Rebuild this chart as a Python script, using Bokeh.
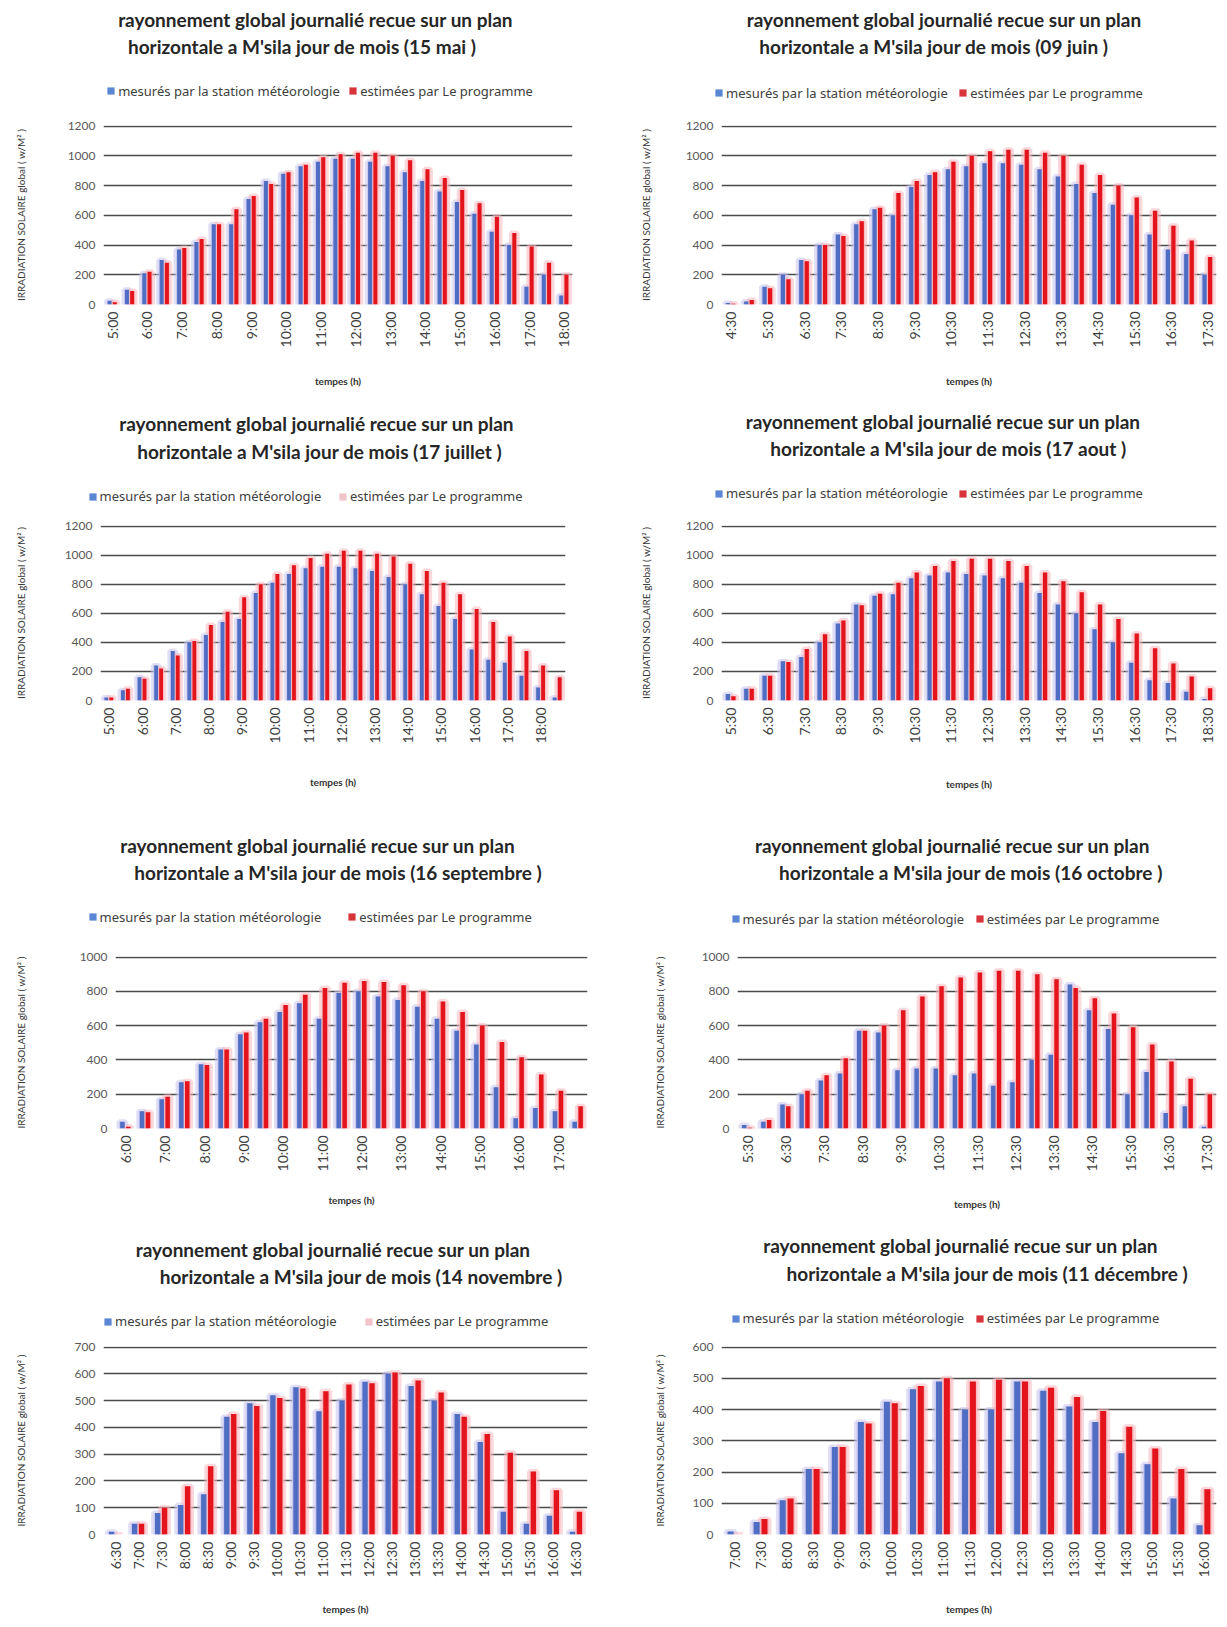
import math
from bokeh.plotting import figure
from bokeh.models import ColumnDataSource, Range1d, FixedTicker, Legend, LegendItem, Label
from bokeh.layouts import column, row
from bokeh.transform import dodge
from bokeh.embed import file_html
from bokeh.resources import INLINE

# ------------------------------------------------------------------ data
TITLE_1 = "rayonnement global journalié recue  sur un plan"
LEG_MES = "mesurés par la station météorologie"
LEG_EST = "estimées par Le programme"
Y_TITLE = "IRRADIATION SOLAIRE global ( w/M² )"
X_TITLE = "tempes (h)"

heures_mai = ["5:00", "5:30", "6:00", "6:30", "7:00", "7:30", "8:00", "8:30", "9:00", "9:30",
              "10:00", "10:30", "11:00", "11:30", "12:00", "12:30", "13:00", "13:30", "14:00",
              "14:30", "15:00", "15:30", "16:00", "16:30", "17:00", "17:30", "18:00"]
mes_mai = [25, 100, 210, 300, 370, 420, 540, 540, 710, 830, 880, 930, 960, 980, 980, 960, 930,
           890, 830, 760, 690, 610, 490, 400, 120, 200, 60]
est_mai = [15, 90, 220, 280, 380, 440, 540, 640, 730, 810, 890, 940, 990, 1010, 1020, 1020, 1000,
           970, 910, 850, 770, 680, 590, 480, 390, 280, 200]

heures_juin = ["4:30", "5:00", "5:30", "6:00", "6:30", "7:00", "7:30", "8:00", "8:30", "9:00",
               "9:30", "10:00", "10:30", "11:00", "11:30", "12:00", "12:30", "13:00", "13:30",
               "14:00", "14:30", "15:00", "15:30", "16:00", "16:30", "17:00", "17:30"]
mes_juin = [10, 20, 120, 200, 300, 400, 470, 540, 640, 600, 790, 870, 910, 930, 950, 950, 940,
            910, 860, 810, 750, 670, 600, 470, 370, 340, 200]
est_juin = [5, 30, 110, 170, 290, 400, 460, 560, 650, 750, 830, 890, 960, 1000, 1030, 1040, 1040,
            1020, 1000, 940, 870, 800, 720, 630, 530, 430, 320]

heures_juillet = ["5:00", "5:30", "6:00", "6:30", "7:00", "7:30", "8:00", "8:30", "9:00", "9:30",
                  "10:00", "10:30", "11:00", "11:30", "12:00", "12:30", "13:00", "13:30", "14:00",
                  "14:30", "15:00", "15:30", "16:00", "16:30", "17:00", "17:30", "18:00", "18:30"]
mes_juillet = [20, 70, 160, 240, 340, 400, 450, 540, 560, 740, 810, 870, 910, 920, 920, 910, 890,
               850, 800, 730, 650, 560, 350, 280, 260, 170, 90, 20]
est_juillet = [20, 80, 150, 220, 310, 410, 520, 610, 710, 800, 870, 930, 980, 1010, 1030, 1030,
               1010, 990, 940, 890, 810, 730, 630, 540, 440, 340, 240, 160]

heures_aout = ["5:30", "6:00", "6:30", "7:00", "7:30", "8:00", "8:30", "9:00", "9:30", "10:00",
               "10:30", "11:00", "11:30", "12:00", "12:30", "13:00", "13:30", "14:00", "14:30",
               "15:00", "15:30", "16:00", "16:30", "17:00", "17:30", "18:00", "18:30"]
mes_aout = [45, 80, 170, 270, 300, 400, 530, 660, 720, 730, 840, 860, 880, 870, 860, 840, 810,
            740, 660, 600, 490, 400, 260, 140, 120, 60, 10]
est_aout = [30, 80, 170, 265, 355, 455, 550, 655, 735, 810, 880, 925, 960, 975, 975, 960, 925,
            880, 820, 745, 660, 560, 460, 360, 255, 165, 85]

heures_sept = ["6:00", "6:30", "7:00", "7:30", "8:00", "8:30", "9:00", "9:30", "10:00", "10:30",
               "11:00", "11:30", "12:00", "12:30", "13:00", "13:30", "14:00", "14:30", "15:00",
               "15:30", "16:00", "16:30", "17:00", "17:30"]
mes_sept = [40, 100, 170, 270, 375, 460, 550, 620, 680, 730, 640, 790, 800, 770, 750, 710, 640,
            570, 490, 240, 60, 120, 100, 40]
est_sept = [10, 95, 185, 275, 370, 460, 560, 640, 720, 780, 820, 850, 860, 855, 835, 800, 740,
            680, 600, 505, 415, 315, 220, 130]

heures_oct = ["5:30", "6:00", "6:30", "7:00", "7:30", "8:00", "8:30", "9:00", "9:30", "10:00",
              "10:30", "11:00", "11:30", "12:00", "12:30", "13:00", "13:30", "14:00", "14:30",
              "15:00", "15:30", "16:00", "16:30", "17:00", "17:30"]
mes_oct = [20, 40, 140, 200, 280, 320, 570, 560, 340, 350, 350, 310, 320, 250, 270, 400, 430, 840,
           690, 580, 200, 330, 90, 130, 10]
est_oct = [5, 50, 130, 220, 310, 410, 570, 600, 690, 770, 830, 880, 910, 920, 920, 900, 870, 820,
           760, 670, 590, 490, 390, 290, 200]

heures_nov = ["6:30", "7:00", "7:30", "8:00", "8:30", "9:00", "9:30", "10:00", "10:30", "11:00",
              "11:30", "12:00", "12:30", "13:00", "13:30", "14:00", "14:30", "15:00", "15:30",
              "16:00", "16:30"]
mes_nov = [10, 40, 80, 110, 150, 440, 490, 520, 550, 460, 500, 570, 600, 555, 500, 450, 345, 85,
           40, 70, 10]
est_nov = [0, 40, 100, 180, 255, 450, 480, 510, 545, 535, 560, 565, 605, 575, 530, 440, 375, 305,
           235, 165, 85]

heures_dec = ["7:00", "7:30", "8:00", "8:30", "9:00", "9:30", "10:00", "10:30", "11:00", "11:30",
              "12:00", "12:30", "13:00", "13:30", "14:00", "14:30", "15:00", "15:30", "16:00"]
mes_dec = [10, 40, 110, 210, 280, 360, 425, 465, 490, 400, 400, 490, 460, 410, 360, 260, 225, 115, 30]
est_dec = [0, 50, 115, 210, 280, 355, 420, 475, 500, 490, 495, 490, 470, 440, 395, 345, 275, 210, 145]

sous_titres = ["horizontale a M'sila jour  de mois (15 mai )",
               "horizontale a M'sila jour  de mois (09 juin )",
               "horizontale a M'sila jour  de mois (17 juillet )",
               "horizontale a M'sila jour de mois (17 aout )",
               "horizontale a M'sila jour  de mois (16 septembre )",
               "horizontale a M'sila jour  de mois (16 octobre )",
               "horizontale a M'sila jour de mois (14 novembre )",
               "horizontale a M'sila jour  de mois (11 décembre )"]
y_max = [1200, 1200, 1200, 1200, 1000, 1000, 700, 600]
y_step = [200, 200, 200, 200, 200, 200, 100, 100]

# ------------------------------------------------------------------ layout / style
FONT = "Lato"
LEG_FONT = "Noto Sans"
BLUE = "#4f6dc2"
RED = "#e3141c"
BLUE_GLOW = "#c6c4ef"
RED_GLOW = "#f7b8be"
GRID = "#4a4a4a"
LEG_H = 17.7
E_TOP = 8
PAGE_W = 1219

SXF = 1.0304   # reference (shown) -> page px
SYF = 1.0324


def px(s):
    return s * SXF


def py(s):
    return s * SYF


COLS = [(0, 608), (608, 611)]
ROWS = [(0, 405), (405, 413), (818, 408), (1226, 393)]

SPECS = [
    dict(frame=(100, 555, 121, 294), tx=(308, 295), ty=(18, 45), leg=(88, 103, 338), yl=20, xt=(330, 370)),
    dict(frame=(700, 1180, 121, 294), tx=(918, 908), ty=(18, 45), leg=(90, 693, 930), yl=627, xt=(943, 370)),
    dict(frame=(97, 548, 509, 683), tx=(309, 312), ty=(410, 437), leg=(481, 85, 328), yl=20, xt=(305, 763)),
    dict(frame=(700, 1180, 507, 678), tx=(917, 920), ty=(408, 434), leg=(478, 693, 930), yl=627, xt=(943, 760)),
    dict(frame=(112, 570, 926, 1097), tx=(310, 330), ty=(818, 845), leg=(888, 85, 337), yl=20, xt=(305, 1168)),
    dict(frame=(715, 1180, 920, 1093), tx=(926, 944), ty=(818, 845), leg=(890, 709, 946), yl=640, xt=(935, 1168)),
    dict(frame=(100, 570, 1300, 1486), tx=(325, 350), ty=(1210, 1236), leg=(1280, 100, 353), yl=20, xt=(320, 1560)),
    dict(frame=(700, 1180, 1304, 1486), tx=(934, 960), ty=(1206, 1233), leg=(1277, 709, 946), yl=640, xt=(940, 1560)),
]


def make_source(times, mes, est):
    return ColumnDataSource(dict(x=list(range(len(times))), mes=mes, est=est))


def make_header(ks, srcs, oy, Hh, hollow):
    """One figure spanning the page width, holding the titles and legends of a row."""
    # very wide ranges: the legend proxy bars below collapse to an invisible sub-pixel area
    h = figure(width=PAGE_W, height=Hh, output_backend="svg", toolbar_location=None, title=None,
               x_axis_type=None, y_axis_type=None,
               x_range=Range1d(-1e6, 1e6), y_range=Range1d(-1e6, 1e6),
               min_border=0, min_border_left=0, min_border_right=0,
               min_border_top=0, min_border_bottom=0)
    h.outline_line_color = None
    h.background_fill_color = "white"
    h.border_fill_color = "white"

    def lx(s):
        return px(s)

    def ly(s):
        return oy + Hh - py(s)

    for k, src, red_hollow in zip(ks, srcs, hollow):
        spec = SPECS[k]
        for txt, cx, cy in ((TITLE_1, spec["tx"][0], spec["ty"][0]),
                            (sous_titres[k], spec["tx"][1], spec["ty"][1])):
            h.add_layout(Label(x=lx(cx), y=ly(cy), x_units="screen", y_units="screen", text=txt,
                               text_font=FONT, text_font_size="19px", text_font_style="bold",
                               text_color="#262626", text_align="center", text_baseline="middle"))
        # legend proxies (no outline so the collapsed bars leave no mark)
        rb = h.vbar(x="x", top="mes", width=0.5, source=src,
                    fill_color="#5b86d4", line_color=None)
        if red_hollow:
            rr = h.vbar(x="x", top="est", width=0.5, source=src,
                        fill_color="#f0c4c8", line_color=None)
        else:
            rr = h.vbar(x="x", top="est", width=0.5, source=src,
                        fill_color="#d8343c", line_color=None)
        legy, lxb, lxr = spec["leg"]
        for rend, lab, lxx in ((rb, LEG_MES, lxb), (rr, LEG_EST, lxr)):
            lg = Legend(items=[LegendItem(label=lab, renderers=[rend])],
                        location=(lx(lxx), ly(legy) - LEG_H / 2), orientation="horizontal",
                        padding=0, margin=0, spacing=0, border_line_color=None,
                        background_fill_alpha=0, glyph_width=9, glyph_height=9,
                        label_height=14, label_standoff=3, label_text_font=LEG_FONT,
                        label_text_font_size="13px", label_text_color="#404040")
            h.add_layout(lg, "center")
    return h


def make_chart(k, times, src, every, ox, top_page, W, Hc, oy_end):
    spec = SPECS[k]
    fx0, fx1, fyt, fyb = spec["frame"]
    L, R, T, B = px(fx0), px(fx1), py(fyt), py(fyb)
    mbl = int(round(L - ox))
    mbr = int(round(ox + W - R))
    mbt = int(round(T - top_page))
    mbb = int(round(oy_end - B))
    ymax = y_max[k]
    n = len(times)
    p = figure(width=W, height=Hc, output_backend="svg", toolbar_location=None, title=None,
               x_range=Range1d(-0.5, n - 0.5), y_range=Range1d(0, ymax * 1.003),
               min_border_left=mbl, min_border_right=mbr,
               min_border_top=mbt, min_border_bottom=mbb)
    p.outline_line_color = None
    p.background_fill_color = "white"
    p.border_fill_color = "white"

    off = 0.15
    p.vbar(x=dodge("x", -off), top="mes", width=0.34, source=src, fill_color=BLUE_GLOW,
           fill_alpha=0.85, line_color=BLUE_GLOW, line_alpha=0.55, line_width=5)
    p.vbar(x=dodge("x", off), top="est", width=0.34, source=src, fill_color=RED_GLOW,
           fill_alpha=0.85, line_color=RED_GLOW, line_alpha=0.55, line_width=5)
    p.vbar(x=dodge("x", -off), top="mes", width=0.23, source=src, fill_color=BLUE, line_color=None)
    p.vbar(x=dodge("x", off), top="est", width=0.23, source=src, fill_color=RED, line_color=None)

    yt = FixedTicker(ticks=list(range(0, ymax + 1, y_step[k])))
    p.yaxis.ticker = yt
    p.ygrid.ticker = yt
    p.ygrid.grid_line_color = GRID
    p.ygrid.grid_line_width = 1.6
    p.xgrid.visible = False

    p.xaxis.ticker = FixedTicker(ticks=list(range(0, n, every)))
    p.xaxis.major_label_overrides = {i: t for i, t in enumerate(times)}
    p.xaxis.major_label_orientation = math.pi / 2
    for ax in (p.xaxis, p.yaxis):
        ax.axis_line_color = None
        ax.major_tick_line_color = None
        ax.minor_tick_line_color = None
        ax.major_tick_out = 0
        ax.major_tick_in = 0
        ax.major_label_text_font = FONT
        ax.axis_label_text_font = FONT
        ax.axis_label_text_font_size = "10px"
        ax.axis_label_text_color = "#333333"
    p.xaxis.major_label_text_font_size = "14px"
    p.xaxis.major_label_text_color = "#404040"
    p.xaxis.major_label_standoff = 7
    p.yaxis.major_label_text_font_size = "12px"
    p.yaxis.major_label_text_color = "#595959"
    p.yaxis.major_label_standoff = 8

    p.yaxis.axis_label = Y_TITLE
    p.yaxis.axis_label_text_font_style = "normal"
    ndig = len(str(ymax))
    p.yaxis.axis_label_standoff = int(round(max(L - px(spec["yl"]) - 16.4 - 7 * ndig, 0)))
    p.xaxis.axis_label = X_TITLE
    p.xaxis.axis_label_text_font_style = "bold"
    c = py(spec["xt"][1]) - B
    p.xaxis.axis_label_standoff = int(max(min(c - 52.5, mbb - 60), 0))
    return p


def make_row(r, panels):
    oy, H = ROWS[r]
    ks = [2 * r, 2 * r + 1]
    tops = [py(SPECS[k]["frame"][2]) for k in ks]
    top_page = int(round(min(tops) - E_TOP))
    Hh = top_page - oy
    Hc = oy + H - top_page
    srcs = [make_source(pn[0], pn[1], pn[2]) for pn in panels]
    head = make_header(ks, srcs, oy, Hh, [pn[4] for pn in panels])
    charts = []
    for k, pn, src in zip(ks, panels, srcs):
        ox, W = COLS[k % 2]
        charts.append(make_chart(k, pn[0], src, pn[3], ox, top_page, W, Hc, oy + H))
    return column(head, row(charts[0], charts[1], spacing=0), spacing=0)


rows = [
    make_row(0, [(heures_mai, mes_mai, est_mai, 2, False), (heures_juin, mes_juin, est_juin, 2, False)]),
    make_row(1, [(heures_juillet, mes_juillet, est_juillet, 2, True), (heures_aout, mes_aout, est_aout, 2, False)]),
    make_row(2, [(heures_sept, mes_sept, est_sept, 2, False), (heures_oct, mes_oct, est_oct, 2, False)]),
    make_row(3, [(heures_nov, mes_nov, est_nov, 1, True), (heures_dec, mes_dec, est_dec, 1, False)]),
]

layout = column(*rows, spacing=0)

open("out.html", "w").write(file_html(layout, INLINE))
